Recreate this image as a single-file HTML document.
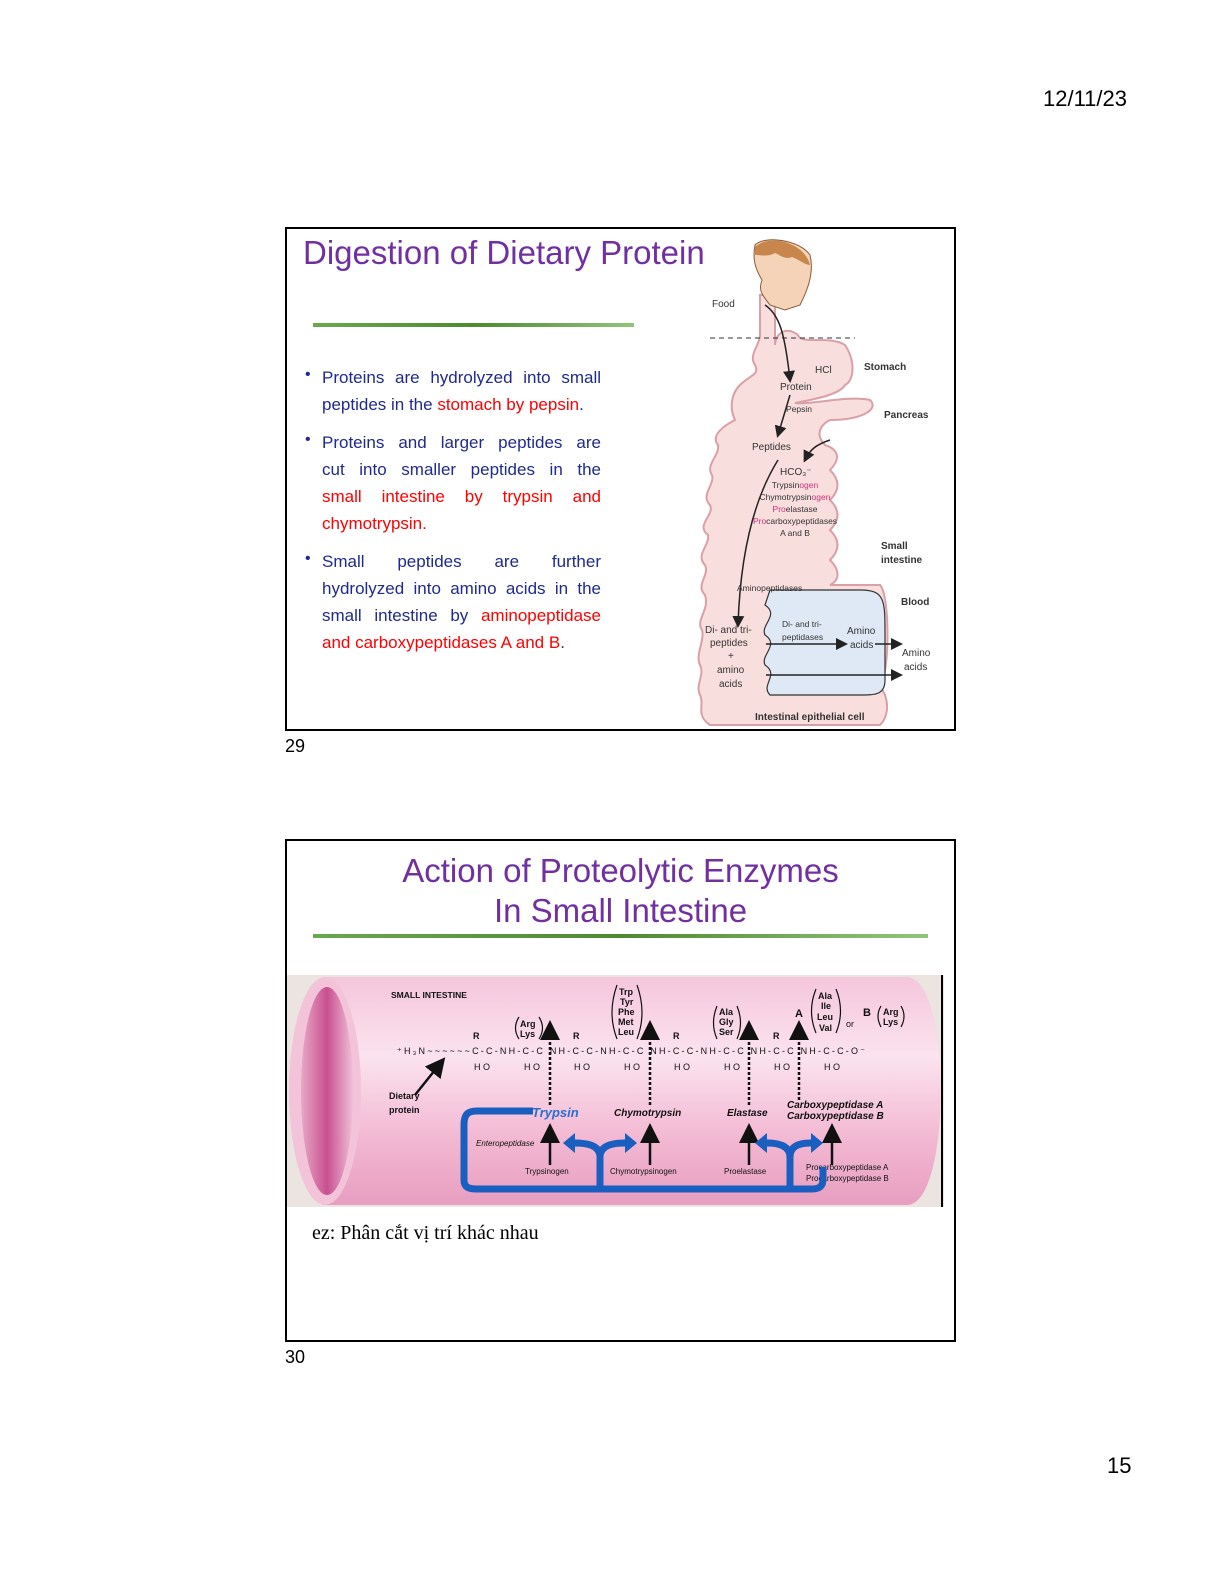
<!DOCTYPE html>
<html><head><meta charset="utf-8"><style>
body{margin:0;width:1225px;height:1585px;background:#fff;position:relative;font-family:"Liberation Sans",sans-serif;overflow:hidden}
.a{position:absolute;white-space:nowrap}
.box{position:absolute;border:2px solid #000;box-sizing:border-box}
.b{position:absolute;left:322px;width:279px;font-size:17px;color:#1f2a8c;line-height:27.2px;text-align:justify;text-align-last:justify}
.r{color:#f00}
</style></head><body>
<div class="a" style="left:1043px;top:86px;font-size:22px">12/11/23</div>
<div class="a" style="left:1107px;top:1453px;font-size:22px">15</div>
<div class="a" style="left:285px;top:736px;font-size:18px">29</div>
<div class="a" style="left:285px;top:1347px;font-size:18px">30</div>

<div class="box" style="left:285px;top:227px;width:671px;height:504px"></div>
<div class="a" style="left:303px;top:234px;font-size:33px;color:#7030a0">Digestion of Dietary Protein</div>
<div class="a" style="left:313px;top:323px;width:321px;height:4px;background:linear-gradient(90deg,#6aa84f,#4e8a30 50%,#93c47d)"></div>
<div class="a" style="left:305px;top:366px;font-size:16px;color:#1f2a8c">•</div>
<div class="a" style="left:305px;top:431px;font-size:16px;color:#1f2a8c">•</div>
<div class="a" style="left:305px;top:550px;font-size:16px;color:#1f2a8c">•</div>
<div class="b" style="top:364px">Proteins are hydrolyzed into small</div>
<div class="b" style="top:391px;text-align-last:left">peptides in the <span class="r">stomach by pepsin</span>.</div>
<div class="b" style="top:429px">Proteins and larger peptides are</div>
<div class="b" style="top:456px">cut into smaller peptides in the</div>
<div class="b" style="top:483px"><span class="r">small intestine by trypsin and</span></div>
<div class="b" style="top:510px;text-align-last:left"><span class="r">chymotrypsin.</span></div>
<div class="b" style="top:548px">Small peptides are further</div>
<div class="b" style="top:575px">hydrolyzed into amino acids in the</div>
<div class="b" style="top:602px">small intestine by <span class="r">aminopeptidase</span></div>
<div class="b" style="top:629px;text-align-last:left"><span class="r">and carboxypeptidases A and B</span>.</div>

<svg class="a" style="left:690px;top:235px" width="265" height="495" viewBox="0 0 265 495">
<defs><marker id="ar" markerWidth="8" markerHeight="8" refX="6" refY="4" orient="auto"><path d="M0,0L8,4L0,8z" fill="#222"/></marker></defs>
<path d="M85,60 L85,110 C85,100 95,90 108,100 C110,110 140,100 155,110 C165,125 165,145 155,150 C150,160 120,165 105,168 C120,170 160,160 180,165 C190,175 170,185 140,185 C130,190 125,200 135,210 C150,215 150,225 140,235 C150,245 150,255 140,265 C150,275 150,285 140,295 C150,305 150,315 140,325 C150,335 150,345 140,350 L190,350 C200,360 200,440 190,450 L195,460 C200,475 195,485 190,490 L20,490 C5,480 15,470 10,460 C5,450 15,440 10,430 C5,420 15,405 12,395 C5,385 20,375 15,360 C5,350 20,340 15,330 C5,320 20,310 18,300 C5,290 25,280 20,270 C10,260 25,250 22,240 C15,230 30,220 28,210 C20,200 35,190 45,185 C40,175 40,160 50,150 C60,140 70,140 65,130 C58,120 70,110 70,100 L70,60Z" fill="#f9dede" stroke="#d9a0a8" stroke-width="2"/>
<path d="M80,355 L170,355 C195,355 195,365 195,400 L195,445 C195,460 185,460 170,460 L80,460 C70,450 90,440 75,430 C70,420 90,410 75,400 C70,390 90,380 75,370Z" fill="#dfe9f6" stroke="#333" stroke-width="1.2"/>
<path d="M65,10 C75,0 110,5 120,20 C125,40 115,60 110,70 L95,75 L80,70 C72,60 68,55 72,45 C66,35 62,25 65,10Z" fill="#f4d3b8" stroke="#8a5a3a"/>
<path d="M65,12 C80,-2 115,8 120,30 C115,30 110,25 102,22 C95,25 90,20 85,18 C78,22 72,20 65,20Z" fill="#c8864c"/>
<line x1="20" y1="103" x2="165" y2="103" stroke="#333" stroke-dasharray="5,4"/>
<path d="M75,70 C90,80 95,100 100,145" fill="none" stroke="#222" stroke-width="1.5" marker-end="url(#ar)"/>
<path d="M100,160 L88,200" fill="none" stroke="#222" stroke-width="1.5" marker-end="url(#ar)"/>
<path d="M140,205 C125,210 120,215 115,225" fill="none" stroke="#222" stroke-width="1.5" marker-end="url(#ar)"/>
<path d="M88,225 C60,270 50,330 48,390" fill="none" stroke="#222" stroke-width="1.5" marker-end="url(#ar)"/>
<line x1="76" y1="409" x2="155" y2="409" stroke="#222" stroke-width="1.5" marker-end="url(#ar)"/>
<line x1="185" y1="409" x2="210" y2="409" stroke="#222" stroke-width="1.5" marker-end="url(#ar)"/>
<line x1="76" y1="440" x2="210" y2="440" stroke="#222" stroke-width="1.5" marker-end="url(#ar)"/>
<g font-family="Liberation Sans" font-size="10" fill="#333">
<text x="22" y="72">Food</text><text x="125" y="138">HCl</text><text x="90" y="155">Protein</text>
<text x="96" y="177" font-size="8.5">Pepsin</text><text x="62" y="215">Peptides</text>
<text x="90" y="240">HCO₃⁻</text>
<text x="105" y="253" font-size="8.5" text-anchor="middle">Trypsin<tspan fill="#d03080">ogen</tspan></text>
<text x="105" y="265" font-size="8.5" text-anchor="middle">Chymotrypsin<tspan fill="#d03080">ogen</tspan></text>
<text x="105" y="277" font-size="8.5" text-anchor="middle"><tspan fill="#d03080">Pro</tspan>elastase</text>
<text x="105" y="289" font-size="8.5" text-anchor="middle"><tspan fill="#d03080">Pro</tspan>carboxypeptidases</text>
<text x="105" y="301" font-size="8.5" text-anchor="middle">A and B</text>
<text x="47" y="356" font-size="8.5">Aminopeptidases</text>
<text x="15" y="398">Di- and tri-</text><text x="20" y="411">peptides</text><text x="38" y="424">+</text>
<text x="27" y="438">amino</text><text x="29" y="452">acids</text>
<text x="92" y="392" font-size="8.5">Di- and tri-</text><text x="92" y="405" font-size="8.5">peptidases</text>
<text x="157" y="399">Amino</text><text x="160" y="413">acids</text>
<text x="212" y="421">Amino</text><text x="214" y="435">acids</text>
<g font-weight="bold"><text x="174" y="135">Stomach</text><text x="194" y="183">Pancreas</text>
<text x="191" y="314">Small</text><text x="191" y="328">intestine</text><text x="211" y="370">Blood</text>
<text x="65" y="485">Intestinal epithelial cell</text></g></g>
</svg>

<div class="box" style="left:285px;top:839px;width:671px;height:503px"></div>
<div class="a" style="left:286px;top:851px;width:669px;text-align:center;font-size:33px;color:#7030a0;line-height:40px;white-space:normal">Action of Proteolytic Enzymes<br>In Small Intestine</div>
<div class="a" style="left:313px;top:934px;width:615px;height:4px;background:linear-gradient(90deg,#6aa84f,#4e8a30 50%,#93c47d)"></div>

<svg class="a" style="left:287px;top:975px" width="657" height="232" viewBox="0 0 657 232">
<defs>
<linearGradient id="tg" x1="0" y1="0" x2="0" y2="1"><stop offset="0" stop-color="#f5c6dc"/><stop offset=".35" stop-color="#fbe3ee"/><stop offset=".7" stop-color="#f3b9d3"/><stop offset="1" stop-color="#e79ec0"/></linearGradient>
<linearGradient id="eg" x1="0" y1="0" x2="1" y2="0"><stop offset="0" stop-color="#e9a8c6"/><stop offset=".5" stop-color="#c85090"/><stop offset="1" stop-color="#f0c0d8"/></linearGradient>
<marker id="ak" markerWidth="8" markerHeight="8" refX="4" refY="4" orient="auto"><path d="M0,0L8,4L0,8z" fill="#111"/></marker>
</defs>
<rect width="657" height="232" fill="#ece4e0"/>
<path d="M35,2 L620,2 C665,2 665,230 620,230 L35,230Z" fill="url(#tg)"/>
<ellipse cx="38" cy="116" rx="36" ry="114" fill="#f3c4d9"/>
<ellipse cx="40" cy="116" rx="26" ry="104" fill="url(#eg)"/>
<line x1="655" y1="0" x2="655" y2="232" stroke="#000" stroke-width="2"/>
<g font-family="Liberation Sans" font-size="9" fill="#111" font-weight="bold">
<text x="104" y="23" font-size="8.5">SMALL INTESTINE</text>
<text x="110" y="79" font-weight="normal" textLength="468" lengthAdjust="spacing">⁺H₃N~~~~~~C-C-NH-C-C NH-C-C-NH-C-C NH-C-C-NH-C-C NH-C-C NH-C-C-O⁻</text>
<text x="186" y="64">R</text><text x="286" y="64">R</text><text x="386" y="64">R</text><text x="486" y="64">R</text>
<g font-weight="normal"><text x="187" y="95">H  O</text><text x="237" y="95">H  O</text><text x="287" y="95">H  O</text><text x="337" y="95">H  O</text><text x="387" y="95">H  O</text><text x="437" y="95">H  O</text><text x="487" y="95">H  O</text><text x="537" y="95">H  O</text></g>
<text x="102" y="124">Dietary</text><text x="102" y="138">protein</text>
<text x="233" y="52">Arg</text><text x="233" y="62">Lys</text>
<text x="332" y="20">Trp</text><text x="333" y="30">Tyr</text><text x="331" y="40">Phe</text><text x="331" y="50">Met</text><text x="331" y="60">Leu</text>
<text x="432" y="40">Ala</text><text x="432" y="50">Gly</text><text x="432" y="60">Ser</text>
<text x="531" y="24">Ala</text><text x="534" y="34">Ile</text><text x="530" y="45">Leu</text><text x="532" y="56">Val</text>
<text x="508" y="42" font-size="11">A</text><text x="559" y="52" font-weight="normal">or</text><text x="576" y="41" font-size="11">B</text>
<text x="596" y="40">Arg</text><text x="596" y="50">Lys</text>
<text x="245" y="142" fill="#2a6fd0" font-size="13" font-style="italic">Trypsin</text>
<text x="327" y="141" font-style="italic" font-size="10">Chymotrypsin</text>
<text x="440" y="141" font-style="italic" font-size="10">Elastase</text>
<text x="500" y="133" font-style="italic" font-size="10">Carboxypeptidase A</text>
<text x="500" y="144" font-style="italic" font-size="10">Carboxypeptidase B</text>
<g font-weight="normal" font-size="8"><text x="189" y="171" font-style="italic">Enteropeptidase</text>
<text x="238" y="199">Trypsinogen</text><text x="323" y="199">Chymotrypsinogen</text><text x="437" y="199">Proelastase</text>
<text x="519" y="195">Procarboxypeptidase A</text><text x="519" y="206">Procarboxypeptidase B</text></g>
</g>
<g fill="none" stroke="#111" stroke-width="1.2">
<path d="M232,42 Q225,53 232,64 M252,42 Q259,53 252,64"/>
<path d="M330,10 Q320,38 330,64 M350,10 Q360,38 350,64"/>
<path d="M430,31 Q423,48 430,64 M450,31 Q457,48 450,64"/>
<path d="M529,14 Q520,36 529,58 M549,14 Q558,36 549,58"/>
<path d="M594,31 Q588,41 594,52 M614,31 Q620,41 614,52"/>
</g>
<g stroke="#111" stroke-width="2.5" stroke-dasharray="3,2"><line x1="263" y1="130" x2="263" y2="60"/><line x1="363" y1="130" x2="363" y2="60"/><line x1="462" y1="130" x2="462" y2="60"/><line x1="512" y1="125" x2="512" y2="60"/></g>
<g stroke="#111" stroke-width="2.5" marker-end="url(#ak)"><line x1="263" y1="60" x2="263" y2="55"/><line x1="363" y1="60" x2="363" y2="55"/><line x1="462" y1="60" x2="462" y2="55"/><line x1="512" y1="60" x2="512" y2="55"/>
<line x1="263" y1="190" x2="263" y2="158"/><line x1="363" y1="190" x2="363" y2="158"/><line x1="462" y1="190" x2="462" y2="158"/><line x1="545" y1="190" x2="545" y2="158"/>
<line x1="128" y1="120" x2="152" y2="90"/></g>
<g fill="none" stroke="#1a5fc0" stroke-width="7">
<path d="M246,136 L190,136 C180,136 177,140 177,150 L177,205 C177,212 181,214 190,214 L525,214 C533,214 536,211 536,204 L536,192"/>
<path d="M313,212 L313,182 C313,170 300,168 287,168 M313,182 C313,170 326,168 338,168"/>
<path d="M503,212 L503,182 C503,170 490,168 480,168 M503,182 C503,170 514,168 524,168"/>
</g>
<path d="M276,168 l12,-10 0,20z M350,168 l-12,-10 0,20z M468,168 l12,-10 0,20z M536,168 l-12,-10 0,20z" fill="#1a5fc0"/>
</svg>
<div class="a" style="left:312px;top:1222px;font-family:'Liberation Serif',serif;font-size:20px">ez: Phân cắt vị trí khác nhau</div>
</body></html>
